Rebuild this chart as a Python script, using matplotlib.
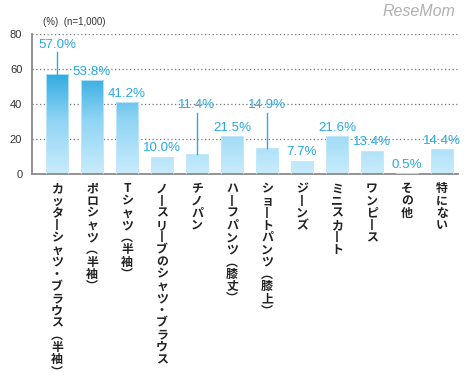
#!/usr/bin/env python3
"""Bar chart: summer clothing items (n=1,000), vertical Japanese labels."""
import matplotlib
matplotlib.use("Agg")
import matplotlib.pyplot as plt
import numpy as np
from matplotlib.colors import LinearSegmentedColormap

plt.rcParams["font.family"] = ["Liberation Sans", "Noto Sans CJK JP", "DejaVu Sans"]

categories = [
    "カッターシャツ・ブラウス（半袖）",
    "ポロシャツ（半袖）",
    "Tシャツ（半袖）",
    "ノースリーブのシャツ・ブラウス",
    "チノパン",
    "ハーフパンツ（膝丈）",
    "ショートパンツ（膝上）",
    "ジーンズ",
    "ミニスカート",
    "ワンピース",
    "その他",
    "特にない",
]
values = [57.0, 53.8, 41.2, 10.0, 11.4, 21.5, 14.9, 7.7, 21.6, 13.4, 0.5, 14.4]
y_ticks = [0, 20, 40, 60, 80]

# labels lifted above the bar with a leader line: index -> label centre (data units)
LEADERS = {0: 74.0, 4: 39.4, 6: 39.4}

BLUE = "#29a9e1"
TEXT = "#333333"
cmap = LinearSegmentedColormap.from_list("bar", ["#c9ecfc", "#8fd4f4", "#1fa3de"])

VERT = {"（": "︵", "）": "︶", "ー": "丨"}


def vertical(s):
    return "\n".join(VERT.get(c, c) for c in s)


fig = plt.figure(figsize=(4.70, 3.82), dpi=100)
ax = fig.add_axes([32 / 470, 1 - 174 / 382, 426 / 470, 140 / 382])

x = np.arange(len(categories))
xlim = (-0.714, len(categories) - 1 + 0.457)

bars = ax.bar(x, values, width=0.63, color="none", edgecolor="#c6e9fa", lw=0.6, zorder=3)
grad = np.linspace(0, 1, 256).reshape(-1, 1)
for b in bars:
    im = ax.imshow(grad, cmap=cmap, origin="lower", aspect="auto",
                   extent=[xlim[0], xlim[1], 0, 62], zorder=2, vmin=0, vmax=1)
    im.set_clip_path(b)
ax.set_xlim(*xlim)
ax.set_ylim(0, 80)

for yv in y_ticks[1:]:
    ax.axhline(yv, color="#777777", lw=0.9, ls=(0, (1, 2)), zorder=1)

for s in ("top", "right"):
    ax.spines[s].set_visible(False)
for s in ("left", "bottom"):
    ax.spines[s].set_color("#8a8a8a")
    ax.spines[s].set_linewidth(1.3)

ax.set_yticks(y_ticks)
ax.set_yticklabels([str(v) for v in y_ticks], fontsize=8, color=TEXT)
ax.tick_params(axis="y", length=0, pad=7)
ax.set_xticks([])

for i, v in enumerate(values):
    label = f"{v:.1f}%"
    if i in LEADERS:
        ly = LEADERS[i]
        ax.text(x[i], ly, label, ha="center", va="center", fontsize=9.6, color=BLUE)
        ax.plot([x[i], x[i]], [ly - 4.3, v], color=BLUE, lw=1.0, zorder=4)
    else:
        ax.annotate(label, (x[i], v), xytext=(0, 1.5), textcoords="offset points",
                    ha="center", va="bottom", fontsize=9.6, color=BLUE)

for i, name in enumerate(categories):
    ax.annotate(vertical(name), (x[i], 0), xytext=(0, -6), textcoords="offset points",
                ha="center", va="top", fontsize=8.6, color="#222222",
                linespacing=0.92, multialignment="center", weight="bold",
                family=["Noto Sans CJK JP", "DejaVu Sans"])

fig.text(43 / 470, 1 - 22 / 382, "(%)  (n=1,000)", fontsize=7, color=TEXT,
         ha="left", va="center")
fig.text(455 / 470, 1 - 12 / 382, "ReseMom", fontsize=11.5, color="#b0b0b0",
         ha="right", va="center", style="italic")

fig.savefig("out.png", dpi=100)
